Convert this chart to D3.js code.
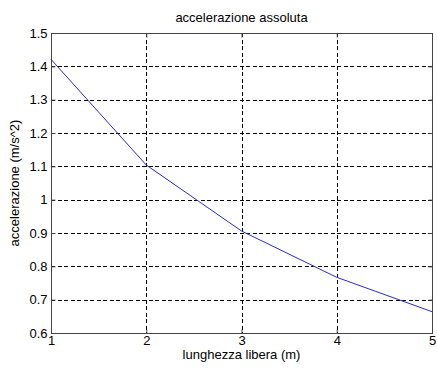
<!DOCTYPE html>
<html>
<head>
<meta charset="utf-8">
<script src="https://cdn.jsdelivr.net/npm/d3@7"></script>
<style>
  html, body { margin: 0; padding: 0; background: #fff; }
  svg { display: block; }
  text { font-family: "Liberation Sans", Arial, sans-serif; fill: #000; }
</style>
</head>
<body>
<svg id="chart" width="437" height="372"></svg>
<script>
// Data
const lunghezza = [1, 2, 3, 4, 5];
const accelerazione = [1.421, 1.104, 0.906, 0.767, 0.664];
const xTicks = [1, 2, 3, 4, 5];
const yTicks = [0.6, 0.7, 0.8, 0.9, 1, 1.1, 1.2, 1.3, 1.4, 1.5];
const titleText = "accelerazione assoluta";
const xLabelText = "lunghezza libera (m)";
const yLabelText = "accelerazione (m/s^2)";

(function () {
const svg = d3.select("#chart");
const mL = 51, mR = 432, mT = 33, mB = 333;

const x = d3.scaleLinear().domain([1, 5]).range([mL, mR]);
const y = d3.scaleLinear().domain([0.6, 1.5]).range([mB, mT]);

const fs = 13;

// grid
const grid = svg.append("g").attr("stroke", "#000").attr("stroke-width", 1)
  .attr("stroke-dasharray", "4,2.5").attr("shape-rendering", "crispEdges");
grid.selectAll("line.vx").data(xTicks.slice(1, -1)).join("line")
  .attr("x1", d => Math.round(x(d)) + 0.5).attr("x2", d => Math.round(x(d)) + 0.5)
  .attr("y1", mT).attr("y2", mB);
grid.selectAll("line.hy").data(yTicks.slice(1, -1)).join("line")
  .attr("y1", d => Math.round(y(d)) + 0.5).attr("y2", d => Math.round(y(d)) + 0.5)
  .attr("x1", mL).attr("x2", mR);

// box
svg.append("rect")
  .attr("x", mL + 0.5).attr("y", mT + 0.5)
  .attr("width", mR - mL).attr("height", mB - mT)
  .attr("fill", "none").attr("stroke", "#444").attr("stroke-width", 1)
  .attr("shape-rendering", "crispEdges");

// axes with inward ticks
const xAxisB = d3.axisBottom(x).tickValues(xTicks).tickSize(-4).tickPadding(5).tickFormat(d3.format("d"));
const xAxisT = d3.axisTop(x).tickValues(xTicks).tickSize(-4).tickFormat("");
const yAxisL = d3.axisLeft(y).tickValues(yTicks).tickSize(-4).tickPadding(4).tickFormat(d => String(+d.toFixed(1)));
const yAxisR = d3.axisRight(y).tickValues(yTicks).tickSize(-4).tickFormat("");

function style(g) {
  g.select(".domain").remove();
  g.selectAll(".tick line").attr("stroke", "#444");
  g.selectAll(".tick text").attr("font-size", fs).attr("font-family", "Liberation Sans, Arial, sans-serif").attr("fill", "#111");
}
svg.append("g").attr("transform", `translate(0,${mB + 0.5})`).call(xAxisB).call(style)
  .selectAll(".tick text").attr("dy", "0.71em").attr("y", 2);
svg.append("g").attr("transform", `translate(0,${mT + 0.5})`).call(xAxisT).call(style);
svg.append("g").attr("transform", `translate(${mL + 0.5},0)`).call(yAxisL).call(style)
  .selectAll(".tick text").attr("x", -4);
svg.append("g").attr("transform", `translate(${mR + 0.5},0)`).call(yAxisR).call(style);

// line
const line = d3.line().x((d, i) => x(lunghezza[i])).y(d => y(d));
svg.append("path").datum(accelerazione)
  .attr("d", line).attr("fill", "none").attr("stroke", "#2a2ad0").attr("stroke-width", 1);

// title and labels
svg.append("text").attr("x", (mL + mR) / 2).attr("y", 22)
  .attr("text-anchor", "middle").attr("font-size", fs).attr("fill", "#111").text(titleText);
svg.append("text").attr("x", (mL + mR) / 2).attr("y", 359)
  .attr("text-anchor", "middle").attr("font-size", fs).attr("fill", "#111").text(xLabelText);
svg.append("text").attr("transform", `translate(19,${(mT + mB) / 2}) rotate(-90)`)
  .attr("text-anchor", "middle").attr("font-size", fs).attr("fill", "#111").text(yLabelText);
})();
</script>
</body>
</html>
